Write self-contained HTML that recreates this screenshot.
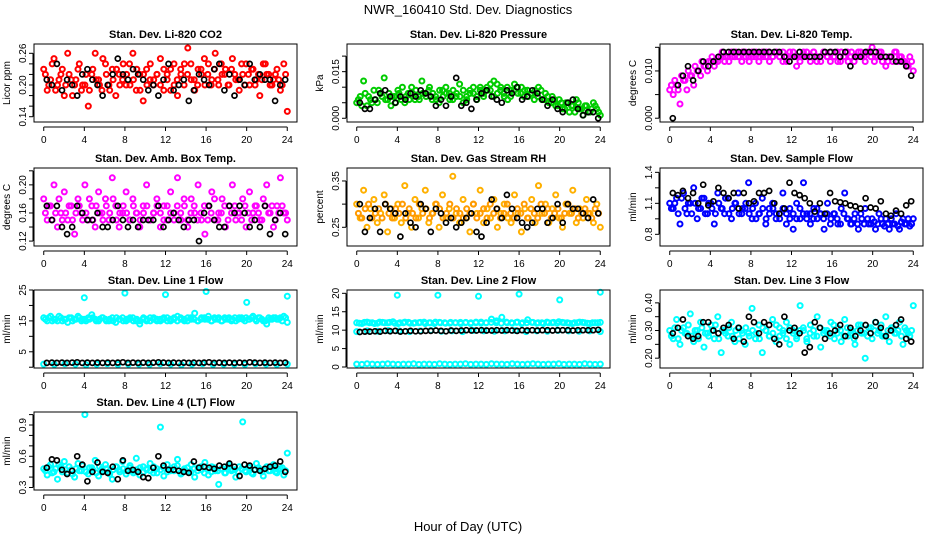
<!DOCTYPE html>
<html><head><meta charset="utf-8"><style>
html,body{margin:0;padding:0;background:#fff;}
svg{display:block;font-family:"Liberation Sans",Arial,sans-serif;}
</style></head><body>
<svg id="chart" width="936" height="540" viewBox="0 0 936 540" xmlns="http://www.w3.org/2000/svg">
<rect width="936" height="540" fill="#fff"/>
<text x="468" y="14" text-anchor="middle" font-size="13">NWR_160410  Std. Dev. Diagnostics</text>
<text x="468" y="531" text-anchor="middle" font-size="13">Hour of Day (UTC)</text>
</svg>
<script>
const xTicks=[0,4,8,12,16,20,24];
const co2Red=[0.23,0.19,0.21,0.25,0.2,0.22,0.18,0.26,0.21,0.2,0.23,0.19,0.2,0.16,0.22,0.26,0.21,0.19,0.24,0.2,0.23,0.18,0.22,0.21,0.2,0.24,0.26,0.19,0.22,0.17,0.23,0.21,0.2,0.22,0.25,0.19,0.21,0.23,0.2,0.18,0.22,0.24,0.27,0.21,0.19,0.23,0.22,0.2,0.24,0.21,0.26,0.2,0.22,0.23,0.2,0.25,0.21,0.19,0.22,0.24,0.2,0.23,0.21,0.18,0.24,0.22,0.2,0.21,0.23,0.19,0.24,0.15];
const co2Red2=[0.22,0.2,0.24,0.19,0.21,0.23,0.2,0.22,0.18,0.21,0.24,0.2,0.22,0.19,0.23,0.21,0.2,0.25,0.22,0.19,0.21,0.23,0.2,0.24,0.22,0.2,0.21,0.23,0.19,0.22,0.2,0.24,0.21,0.22,0.2,0.23,0.22,0.19,0.24,0.21,0.23,0.2,0.22,0.24,0.21,0.2,0.23,0.25,0.22,0.2,0.23,0.21,0.24,0.22,0.2,0.23,0.22,0.21,0.24,0.2,0.22,0.23,0.2,0.22,0.21,0.24,0.22,0.2,0.22,0.21,0.2,0.22];
const co2Black=[0.21,0.2,0.24,0.19,0.21,0.2,0.18,0.22,0.23,0.21,0.2,0.18,0.2,0.22,0.25,0.22,0.21,0.23,0.22,0.21,0.19,0.2,0.18,0.21,0.24,0.19,0.2,0.21,0.17,0.19,0.22,0.21,0.2,0.23,0.24,0.19,0.22,0.18,0.21,0.2,0.24,0.21,0.22,0.21,0.21,0.17,0.2,0.21];
const presGreen=[0.005,0.007,0.012,0.004,0.006,0.009,0.005,0.008,0.013,0.006,0.004,0.007,0.009,0.006,0.005,0.008,0.01,0.006,0.007,0.012,0.008,0.009,0.006,0.007,0.005,0.009,0.01,0.008,0.006,0.007,0.011,0.005,0.007,0.009,0.008,0.006,0.01,0.007,0.009,0.011,0.012,0.008,0.01,0.007,0.006,0.009,0.011,0.008,0.01,0.009,0.007,0.008,0.009,0.01,0.006,0.008,0.005,0.007,0.004,0.006,0.003,0.005,0.002,0.004,0.006,0.003,0.001,0.004,0.002,0.005,0.003,0.001];
const presGreen2=[0.006,0.004,0.008,0.007,0.005,0.006,0.009,0.007,0.006,0.008,0.007,0.005,0.008,0.01,0.007,0.006,0.008,0.009,0.006,0.008,0.007,0.01,0.008,0.006,0.009,0.007,0.008,0.006,0.009,0.008,0.007,0.009,0.006,0.008,0.01,0.007,0.009,0.008,0.01,0.009,0.007,0.011,0.009,0.008,0.01,0.007,0.009,0.01,0.008,0.007,0.009,0.008,0.006,0.007,0.009,0.006,0.007,0.005,0.006,0.004,0.005,0.003,0.005,0.004,0.002,0.005,0.003,0.004,0.002,0.003,0.004,0.002];
const presBlack=[0.005,0.003,0.003,0.006,0.008,0.009,0.007,0.005,0.007,0.006,0.008,0.007,0.009,0.008,0.007,0.004,0.006,0.004,0.007,0.013,0.004,0.005,0.003,0.006,0.008,0.009,0.007,0.006,0.005,0.009,0.008,0.01,0.006,0.007,0.009,0.008,0.006,0.004,0.006,0.003,0.002,0.005,0.006,0.003,0.001,0.002,0.002,0.0];
const tempMag=[0.006,0.005,0.007,0.003,0.008,0.006,0.009,0.007,0.01,0.009,0.011,0.01,0.012,0.011,0.012,0.013,0.012,0.013,0.014,0.013,0.013,0.012,0.014,0.013,0.014,0.013,0.012,0.014,0.013,0.014,0.013,0.014,0.013,0.012,0.013,0.014,0.013,0.011,0.013,0.014,0.013,0.012,0.014,0.013,0.012,0.014,0.013,0.014,0.013,0.012,0.014,0.013,0.012,0.014,0.013,0.014,0.013,0.012,0.014,0.015,0.013,0.014,0.012,0.011,0.013,0.012,0.014,0.013,0.012,0.011,0.013,0.01];
const tempMag2=[0.007,0.008,0.006,0.009,0.008,0.01,0.009,0.011,0.01,0.012,0.011,0.012,0.013,0.012,0.013,0.014,0.013,0.012,0.013,0.014,0.013,0.014,0.013,0.012,0.013,0.014,0.013,0.013,0.014,0.012,0.013,0.014,0.013,0.014,0.012,0.013,0.014,0.013,0.012,0.013,0.014,0.013,0.014,0.012,0.013,0.014,0.013,0.012,0.013,0.014,0.012,0.013,0.014,0.013,0.012,0.013,0.014,0.013,0.014,0.013,0.012,0.013,0.014,0.013,0.012,0.013,0.014,0.012,0.013,0.012,0.011,0.012];
const tempBlack=[0.0,0.007,0.009,0.011,0.008,0.01,0.012,0.011,0.012,0.013,0.014,0.014,0.014,0.014,0.014,0.014,0.014,0.014,0.014,0.014,0.014,0.014,0.013,0.012,0.013,0.014,0.013,0.013,0.013,0.013,0.014,0.014,0.014,0.013,0.014,0.011,0.013,0.013,0.014,0.014,0.014,0.013,0.013,0.013,0.012,0.012,0.011,0.009];
const ambMag=[0.18,0.15,0.17,0.2,0.14,0.16,0.19,0.15,0.17,0.13,0.18,0.16,0.2,0.15,0.17,0.14,0.19,0.16,0.18,0.15,0.21,0.17,0.14,0.16,0.19,0.15,0.18,0.16,0.14,0.17,0.2,0.15,0.16,0.18,0.14,0.17,0.15,0.19,0.16,0.21,0.15,0.17,0.14,0.18,0.16,0.2,0.15,0.13,0.17,0.19,0.15,0.16,0.18,0.14,0.17,0.2,0.15,0.16,0.18,0.14,0.19,0.16,0.17,0.15,0.18,0.2,0.16,0.14,0.17,0.21,0.16,0.15];
const ambMag2=[0.16,0.17,0.15,0.16,0.18,0.15,0.16,0.17,0.15,0.16,0.17,0.15,0.16,0.18,0.15,0.17,0.16,0.15,0.17,0.16,0.18,0.15,0.16,0.17,0.16,0.15,0.17,0.16,0.15,0.16,0.17,0.15,0.16,0.17,0.16,0.15,0.17,0.16,0.15,0.17,0.16,0.18,0.15,0.16,0.17,0.15,0.16,0.17,0.15,0.16,0.18,0.15,0.16,0.17,0.15,0.16,0.17,0.16,0.15,0.17,0.16,0.15,0.17,0.16,0.15,0.17,0.16,0.17,0.15,0.16,0.17,0.16];
const ambBlack=[0.17,0.15,0.17,0.14,0.13,0.14,0.17,0.16,0.15,0.15,0.16,0.14,0.14,0.15,0.17,0.15,0.14,0.15,0.14,0.15,0.15,0.15,0.17,0.14,0.15,0.16,0.15,0.14,0.15,0.15,0.12,0.16,0.17,0.15,0.14,0.14,0.17,0.16,0.17,0.16,0.14,0.15,0.14,0.17,0.13,0.15,0.16,0.13];
const rhOrange=[0.3,0.27,0.33,0.25,0.29,0.31,0.26,0.28,0.32,0.24,0.29,0.27,0.3,0.26,0.34,0.28,0.25,0.31,0.27,0.29,0.33,0.26,0.28,0.3,0.25,0.32,0.27,0.29,0.36,0.28,0.26,0.31,0.27,0.24,0.3,0.28,0.33,0.26,0.29,0.27,0.31,0.25,0.28,0.3,0.27,0.26,0.32,0.28,0.24,0.29,0.27,0.31,0.26,0.34,0.28,0.3,0.26,0.29,0.32,0.27,0.25,0.3,0.28,0.33,0.26,0.29,0.27,0.31,0.28,0.26,0.3,0.25];
const rhOrange2=[0.28,0.27,0.29,0.3,0.27,0.28,0.29,0.27,0.3,0.28,0.27,0.29,0.28,0.3,0.27,0.29,0.28,0.27,0.3,0.28,0.29,0.27,0.28,0.3,0.29,0.27,0.28,0.3,0.27,0.29,0.28,0.27,0.29,0.28,0.3,0.27,0.28,0.29,0.27,0.3,0.28,0.29,0.27,0.28,0.3,0.28,0.27,0.29,0.28,0.3,0.27,0.29,0.28,0.27,0.3,0.28,0.29,0.27,0.28,0.29,0.27,0.28,0.3,0.28,0.29,0.27,0.28,0.29,0.28,0.27,0.29,0.28];
const rhBlack=[0.3,0.24,0.27,0.29,0.24,0.3,0.29,0.28,0.23,0.28,0.26,0.25,0.3,0.29,0.24,0.29,0.28,0.26,0.27,0.25,0.26,0.27,0.28,0.24,0.23,0.26,0.31,0.29,0.27,0.32,0.29,0.27,0.26,0.25,0.26,0.29,0.29,0.26,0.27,0.3,0.26,0.3,0.29,0.29,0.28,0.27,0.31,0.28];
const flowBlue=[1.1,1.05,1.15,0.9,1.2,1.0,1.1,1.25,0.95,1.05,1.15,1.0,1.1,0.9,1.2,1.05,1.0,1.15,0.95,1.1,1.2,1.0,1.05,1.3,0.95,1.1,1.0,1.15,0.9,1.05,1.1,0.95,1.0,1.2,0.9,1.05,0.85,1.1,0.95,1.3,1.0,0.9,1.05,0.95,1.0,0.85,1.1,0.95,1.0,0.9,1.05,1.2,0.95,0.9,1.0,0.85,0.95,1.05,0.9,0.95,0.85,1.0,0.9,0.95,0.85,0.9,1.0,0.85,0.95,0.9,0.88,0.95];
const flowBlue2=[1.05,1.1,1.0,1.15,1.05,1.1,1.0,1.1,1.05,1.15,1.0,1.1,1.05,1.0,1.1,1.05,1.15,1.0,1.05,1.1,1.0,1.05,1.1,1.0,1.05,0.95,1.0,1.05,0.95,1.0,1.05,1.0,0.95,1.05,1.0,0.95,1.0,0.95,1.05,1.0,0.95,1.0,0.95,1.05,1.0,0.95,1.0,0.9,1.0,0.95,0.9,1.0,0.95,0.9,0.95,0.9,1.0,0.9,0.95,0.9,0.92,0.9,0.95,0.88,0.9,0.95,0.9,0.88,0.92,0.9,0.95,0.9];
const flowBlack=[1.2,1.18,1.22,1.15,1.2,1.1,1.28,1.08,1.12,1.25,1.2,1.15,1.2,1.05,1.2,1.1,1.12,1.2,1.2,1.22,1.1,1.0,1.05,1.3,1.2,1.18,1.15,1.1,1.02,1.1,1.0,1.2,1.12,1.11,1.1,1.08,1.07,1.05,1.15,1.06,1.05,1.12,1.0,0.98,1.03,1.0,1.08,1.12];
const l1Cyan=[16,15,16.5,15.5,15,16,15.5,14.5,16,15.5,16.5,15,15.5,16,17,15.5,15,16,15.5,15,16,14.5,15.5,16,15,15.5,16,15,14,15.5,15,16,15.5,15,15.5,16,15,15.5,16,16.5,15.5,15,16,15.5,17.5,15,16,15.5,16.5,15,15.5,16,15,15.5,16,15.5,15,16,15.5,16,15.5,16.5,15,16,15,14,15.5,16,15.5,16,16.5,14.5];
const l1Cyan2=[15.5,16,15,15.5,16.5,15,15.5,16,15,15.5,16,15.5,15,15.5,16,15,15.5,16,15,15.5,15,16,15.5,15,15.5,16,15,15.5,15,16,15.5,15,16,15.5,15,15.5,16,15,15.5,15,16,15.5,15,16,15.5,15,15.5,16,15.5,15,16,15.5,15,16,15.5,15,16,15.5,16,15,15.5,16,15.5,16,15.5,15,16,15.5,16,15.5,15,16];
const l1CyanLow=[1.0,0.9,1.1,1.0,0.8,1.0,1.1,0.9,1.0,1.0,0.9,1.1,1.0,0.8,1.0,1.1,0.9,1.0,1.0,0.9,1.1,1.0,0.9,1.0];
const l1Black=[1.4,1.5,1.4,1.5,1.4,1.5,1.6,1.4,1.5,1.4,1.5,1.4,1.5,1.4,1.5,1.6,1.4,1.5,1.4,1.5,1.4,1.5,1.6,1.5,1.4,1.5,1.4,1.5,1.4,1.5,1.4,1.5,1.6,1.4,1.5,1.4,1.5,1.4,1.5,1.4,1.6,1.5,1.4,1.5,1.4,1.5,1.4,1.5];
const l1OutHours=[4,8,12,16,20,24];
const l1Out=[22.5,24,23.5,24.5,21,23];
const l2CyanHigh=[12,11.8,12.2,12,11.9,12.1,12,12.3,11.8,12,12.1,11.9,12,12.2,12,11.8,12.1,12,11.9,12,12.1,12,11.8,12,12.2,12,13,12.5,13.5,12,11.9,12.2,12,12.8,12.1,12,11.8,12,12.1,12.3,12,11.9,12,12.2,12,11.8,12,12.1];
const l2CyanHigh2=[11.9,12.1,12,11.8,12.2,12,12.1,11.9,12,12.2,11.9,12,12.1,11.8,12,12.2,12,11.9,12.1,12,11.8,12.1,12,12.2,11.9,12,12.1,12,11.9,12.2,12,12.1,11.8,12,12.1,11.9,12,12.2,12,11.9,12.1,12,11.8,12,12.1,11.9,12,12];
const l2CyanMid=[9.6,9.8,9.7,9.9,9.8,9.6,9.8,9.9,9.7,9.8,9.6,9.9,9.8,9.7,9.8,9.9,9.6,9.8,9.7,9.9,9.8,9.7,9.8,9.6];
const l2CyanLow=[0.8,0.7,0.9,0.8,0.7,0.8,0.9,0.8,0.7,0.8,0.8,0.9,0.7,0.8,0.8,0.7,0.9,0.8,0.7,0.8,0.8,0.9,0.7,0.8,0.8,0.7,0.9,0.8,0.8,0.7,0.9,0.8,0.7,0.8,0.9,0.8,0.7,0.8,0.8,0.9,0.7,0.8,0.8,0.7,0.9,0.8,0.7,0.8];
const l2Black=[9.5,9.6,9.6,9.7,9.6,9.8,9.7,9.8,9.6,9.7,9.8,9.7,9.7,9.8,9.8,9.9,9.8,9.7,9.9,9.8,9.9,10,9.9,9.9,10,9.9,9.9,10,9.9,10,9.9,9.8,10,9.9,10,9.9,10,10,9.9,10,10,10,9.9,10,10,10,10,10.1];
const l2OutHours=[4,8,12,16,20,24];
const l2Out=[19.5,19.5,19.2,19.8,18.2,20.3];
const l3Cyan=[0.3,0.27,0.34,0.25,0.31,0.29,0.36,0.26,0.3,0.33,0.24,0.29,0.32,0.27,0.35,0.22,0.3,0.28,0.33,0.26,0.31,0.3,0.25,0.29,0.38,0.27,0.32,0.22,0.3,0.28,0.34,0.26,0.31,0.29,0.33,0.25,0.3,0.27,0.39,0.3,0.26,0.32,0.28,0.35,0.24,0.3,0.29,0.33,0.27,0.31,0.26,0.34,0.28,0.3,0.25,0.32,0.29,0.2,0.31,0.27,0.33,0.3,0.28,0.35,0.26,0.31,0.29,0.33,0.25,0.3,0.28,0.39];
const l3Cyan2=[0.28,0.31,0.27,0.3,0.29,0.32,0.28,0.3,0.27,0.31,0.29,0.28,0.3,0.32,0.27,0.3,0.29,0.31,0.28,0.3,0.27,0.29,0.31,0.28,0.3,0.29,0.27,0.31,0.3,0.28,0.29,0.32,0.28,0.3,0.27,0.31,0.29,0.28,0.3,0.31,0.27,0.29,0.3,0.28,0.31,0.29,0.3,0.28,0.32,0.29,0.3,0.28,0.31,0.29,0.27,0.3,0.32,0.29,0.28,0.31,0.3,0.29,0.32,0.28,0.3,0.31,0.29,0.3,0.28,0.31,0.29,0.3];
const l3Black=[0.29,0.31,0.34,0.28,0.27,0.28,0.33,0.33,0.3,0.29,0.31,0.32,0.27,0.31,0.26,0.35,0.33,0.29,0.33,0.32,0.27,0.25,0.35,0.3,0.31,0.29,0.22,0.24,0.33,0.31,0.27,0.29,0.3,0.32,0.28,0.31,0.28,0.3,0.32,0.29,0.33,0.31,0.28,0.3,0.32,0.34,0.27,0.26];
const l4Cyan=[0.48,0.42,0.52,0.45,0.38,0.5,0.55,0.44,0.47,0.4,0.53,0.46,1.0,0.43,0.49,0.56,0.41,0.48,0.52,0.45,0.38,0.5,0.47,0.55,0.43,0.49,0.46,0.58,0.42,0.5,0.47,0.53,0.44,0.48,0.88,0.41,0.52,0.46,0.5,0.57,0.43,0.48,0.45,0.52,0.4,0.49,0.47,0.54,0.42,0.5,0.46,0.33,0.48,0.44,0.52,0.47,0.4,0.5,0.93,0.45,0.49,0.43,0.53,0.47,0.41,0.5,0.46,0.52,0.44,0.48,0.42,0.63];
const l4Cyan2=[0.46,0.5,0.44,0.48,0.52,0.45,0.47,0.5,0.43,0.48,0.46,0.51,0.45,0.49,0.47,0.44,0.5,0.46,0.48,0.43,0.47,0.5,0.45,0.48,0.46,0.51,0.44,0.47,0.49,0.45,0.48,0.46,0.5,0.44,0.47,0.49,0.45,0.48,0.46,0.51,0.44,0.47,0.49,0.45,0.48,0.46,0.5,0.44,0.47,0.45,0.49,0.46,0.48,0.44,0.5,0.46,0.47,0.45,0.48,0.46,0.5,0.44,0.47,0.49,0.45,0.48,0.46,0.5,0.45,0.47,0.49,0.46];
const l4Black=[0.49,0.57,0.56,0.47,0.43,0.46,0.6,0.52,0.36,0.45,0.54,0.45,0.44,0.5,0.38,0.56,0.46,0.47,0.45,0.4,0.39,0.49,0.6,0.51,0.47,0.47,0.46,0.45,0.44,0.55,0.49,0.5,0.49,0.48,0.51,0.5,0.53,0.5,0.41,0.52,0.51,0.47,0.46,0.48,0.5,0.51,0.55,0.45];

const NS='http://www.w3.org/2000/svg';
const svg=document.getElementById('chart');
const colL=[34,347,660], rowT=[44,168,290,412], PW=263, PH=78;
function mk(tag,attrs,parent){const e=document.createElementNS(NS,tag);for(const k in attrs)e.setAttribute(k,attrs[k]);(parent||svg).appendChild(e);return e;}
function hoursFor(vals,mode){
  const n=vals.length;
  if(mode===1)return vals.map((v,i)=>0.3+23.5*i/(n-1));
  if(mode===2)return vals.map((v,i)=>24*(i+0.5)/n);
  return vals.map((v,i)=>24*i/(n-1));
}

const panels=[
 {name:'co2',title:'Stan. Dev. Li-820 CO2',ylab:'Licor ppm',c:0,r:0,ylim:[0.130,0.2776],ticks:[0.14,0.16,0.18,0.2,0.22,0.24,0.26],labels:['0.14','0.20','0.26'],labVals:[0.14,0.2,0.26],
  series:[{v:co2Red,col:'#ff0000'},{v:co2Red2,col:'#ff0000',sh:2},{v:co2Black,col:'#000',sh:1}]},
 {name:'pressure',title:'Stan. Dev. Li-820 Pressure',ylab:'kPa',c:1,r:0,ylim:[-0.0012,0.0239],ticks:[0,0.005,0.01,0.015,0.02],labels:['0.000','0.015'],labVals:[0,0.015],
  series:[{v:presGreen,col:'#00cc00'},{v:presGreen2,col:'#00cc00',sh:2},{v:presBlack,col:'#000',sh:1}]},
 {name:'temp',title:'Stan. Dev. Li-820 Temp.',ylab:'degrees C',c:2,r:0,ylim:[-0.0008,0.0157],ticks:[0,0.005,0.01,0.015],labels:['0.000','0.010'],labVals:[0,0.01],
  series:[{v:tempMag,col:'#ff00ff'},{v:tempMag2,col:'#ff00ff',sh:2},{v:tempBlack,col:'#000',sh:1}]},
 {name:'amb-box',title:'Stan. Dev. Amb. Box Temp.',ylab:'degrees C',c:0,r:1,ylim:[0.113,0.224],ticks:[0.12,0.14,0.16,0.18,0.2,0.22],labels:['0.12','0.16','0.20'],labVals:[0.12,0.16,0.2],
  series:[{v:ambMag,col:'#ff00ff'},{v:ambMag2,col:'#ff00ff',sh:2},{v:ambBlack,col:'#000',sh:1}]},
 {name:'rh',title:'Stan. Dev. Gas Stream RH',ylab:'percent',c:1,r:1,ylim:[0.2096,0.378],ticks:[0.25,0.3,0.35],labels:['0.25','0.35'],labVals:[0.25,0.35],
  series:[{v:rhOrange,col:'#ffb000'},{v:rhOrange2,col:'#ff9a00',sh:2},{v:rhBlack,col:'#000',sh:1}]},
 {name:'sample-flow',title:'Stan. Dev. Sample Flow',ylab:'ml/min',c:2,r:1,ylim:[0.687,1.442],ticks:[0.8,0.95,1.1,1.25,1.4],labels:['0.8','1.1','1.4'],labVals:[0.8,1.1,1.4],
  series:[{v:flowBlue,col:'#0000ff'},{v:flowBlue2,col:'#0000ff',sh:2},{v:flowBlack,col:'#000',sh:1}]},
 {name:'line1',title:'Stan. Dev. Line 1 Flow',ylab:'ml/min',c:0,r:2,ylim:[-0.25,25],ticks:[0,5,10,15,20,25],labels:['5','15','25'],labVals:[5,15,25],
  series:[{v:l1Cyan,col:'#00ffff'},{v:l1Cyan2,col:'#00ffff',sh:2},{v:l1CyanLow,col:'#00ffff'},{v:l1Black,col:'#000',sh:1},{v:l1Out,x:l1OutHours,col:'#00ffff'}]},
 {name:'line2',title:'Stan. Dev. Line 2 Flow',ylab:'ml/min',c:1,r:2,ylim:[-0.27,20.9],ticks:[0,5,10,15,20],labels:['0','5','10','15','20'],labVals:[0,5,10,15,20],
  series:[{v:l2CyanHigh,col:'#00ffff'},{v:l2CyanHigh2,col:'#00ffff',sh:2},{v:l2CyanMid,col:'#00ffff'},{v:l2CyanLow,col:'#00ffff'},{v:l2Black,col:'#000',sh:1},{v:l2Out,x:l2OutHours,col:'#00ffff'}]},
 {name:'line3',title:'Stan. Dev. Line 3 Flow',ylab:'ml/min',c:2,r:2,ylim:[0.1645,0.4465],ticks:[0.2,0.25,0.3,0.35,0.4],labels:['0.20','0.30','0.40'],labVals:[0.2,0.3,0.4],
  series:[{v:l3Cyan,col:'#00ffff'},{v:l3Cyan2,col:'#00ffff',sh:2},{v:l3Black,col:'#000',sh:1}]},
 {name:'line4',title:'Stan. Dev. Line 4 (LT) Flow',ylab:'ml/min',c:0,r:3,ylim:[0.276,1.025],ticks:[0.3,0.4,0.5,0.6,0.7,0.8,0.9,1.0],labels:['0.3','0.6','0.9'],labVals:[0.3,0.6,0.9],
  series:[{v:l4Cyan,col:'#00ffff'},{v:l4Cyan2,col:'#00ffff',sh:2},{v:l4Black,col:'#000',sh:1}]}
];

panels.forEach(p=>{
  const L=colL[p.c],T=rowT[p.r],B=T+PH,R=L+PW;
  const g=mk('g',{});
  
  
  const xs=h=>L+PW*(h+0.96)/25.92;
  const ys=v=>B-PH*(v-p.ylim[0])/(p.ylim[1]-p.ylim[0]);
  const t=mk('text',{x:(L+R)/2,y:T-6,'text-anchor':'middle','font-size':'11','font-weight':'bold'},g);
  t.textContent=p.title;
  
  
  const yl=mk('text',{x:0,y:0,transform:`translate(${L-24},${(T+B)/2}) rotate(-90)`,'text-anchor':'middle','font-size':'10'},g);
  yl.textContent=p.ylab;
  
  
  p.series.forEach(s=>{
    const hx=s.x?s.x:hoursFor(s.v,s.sh||0);
    const black=s.col==='#000';
    s.v.forEach((v,i)=>{
      const cy=ys(v);
      if(cy<T-3||cy>B+3)return;
      const c=mk('circle',{cx:xs(hx[i]).toFixed(1),cy:cy.toFixed(1),r:2.5,fill:'none',stroke:s.col,'stroke-width':black?1.7:2},g);
      
      
    });
  });
  const box=mk('rect',{x:L,y:T,width:PW,height:PH,fill:'none',stroke:'#000','stroke-width':1},g);
  
  
  const ax=B+5;
  mk('line',{x1:xs(0),x2:xs(24),y1:ax,y2:ax,stroke:'#000'},g);
  xTicks.forEach(h=>{
    mk('line',{x1:xs(h),x2:xs(h),y1:ax,y2:ax+4,stroke:'#000'},g);
    const tl=mk('text',{x:xs(h),y:ax+16,'text-anchor':'middle','font-size':'10'},g);
    tl.textContent=String(h);
    
    
  });
  const lx=L-1;
  mk('line',{x1:lx,x2:lx,y1:ys(p.ticks[0]),y2:ys(p.ticks[p.ticks.length-1]),stroke:'#000'},g);
  p.ticks.forEach(v=>mk('line',{x1:lx-4,x2:lx,y1:ys(v),y2:ys(v),stroke:'#000'},g));
  p.labels.forEach((lab,i)=>{
    const yy=ys(p.labVals[i]);
    const tl=mk('text',{x:0,y:0,transform:`translate(${lx-7},${yy}) rotate(-90)`,'text-anchor':'middle','font-size':'10'},g);
    tl.textContent=lab;
    
    
  });
});
</script>
</body></html>
